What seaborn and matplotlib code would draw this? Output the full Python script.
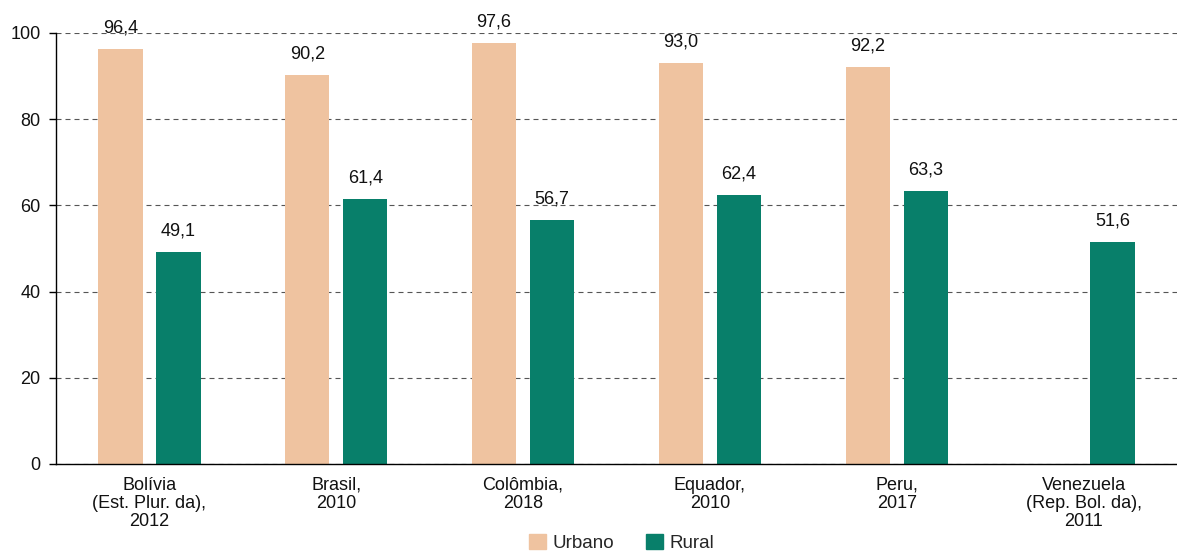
import numpy as np
import pandas as pd
import matplotlib
matplotlib.use("Agg")
import matplotlib.pyplot as plt
from matplotlib.patches import Patch
import seaborn as sns

# data
paises = ["Bolívia\n(Est. Plur. da),\n2012", "Brasil,\n2010", "Colômbia,\n2018",
          "Equador,\n2010", "Peru,\n2017", "Venezuela\n(Rep. Bol. da),\n2011"]
urbano = [96.4, 90.2, 97.6, 93.0, 92.2, np.nan]
rural = [49.1, 61.4, 56.7, 62.4, 63.3, 51.6]
series = ["Urbano", "Rural"]
cores = ["#EFC3A0", "#087F6A"]


def make_chart():
    sns.set_style("white")
    plt.rcParams['font.family'] = ['Liberation Sans', 'DejaVu Sans']
    plt.rcParams['font.size'] = 13

    df = pd.DataFrame({"pais": paises * 2,
                       "serie": [series[0]] * len(paises) + [series[1]] * len(paises),
                       "valor": urbano + rural})

    fig = plt.figure(figsize=(11.77, 5.52), dpi=100)
    ax = fig.add_axes([56 / 1177, 1 - 464 / 552, 1 - 56 / 1177, (464 - 33) / 552])

    sns.barplot(data=df, x="pais", y="valor", hue="serie", order=paises,
                hue_order=series, palette=cores, width=0.62, gap=0.235,
                ax=ax, legend=False, saturation=1, linewidth=0)

    for cont in ax.containers:
        ax.bar_label(cont, labels=[f"{v:.1f}".replace(".", ",") for v in cont.datavalues],
                     padding=9, fontsize=13, color="#111111")

    ax.set_ylim(0, 100)
    # groups are ~189 px wide, the last one is cut by the figure edge
    ax.set_xlim(-0.5, -0.5 + 1121 / 189)
    ax.set_yticks(range(0, 101, 20))
    ax.yaxis.grid(True, linestyle=(0, (4.5, 3.6)), color="#555555", linewidth=0.8)
    ax.set_axisbelow(True)
    for s in ["top", "right"]:
        ax.spines[s].set_visible(False)
    for s in ["left", "bottom"]:
        ax.spines[s].set_color("black")
        ax.spines[s].set_linewidth(1.0)

    ax.set_xticks(range(len(paises)))
    ax.set_xticklabels(paises, linespacing=1.08)
    ax.set_xticks(np.arange(-0.5, len(paises), 1.0), minor=True)
    ax.tick_params(axis="x", which="major", length=0, pad=9, labelcolor="#111111")
    ax.tick_params(axis="x", which="minor", length=4, width=1, color="black", direction="out")
    ax.tick_params(axis="y", length=5, width=1, color="black", pad=6, left=True,
                   labelcolor="#111111")
    ax.set_xlabel("")
    ax.set_ylabel("")

    handles = [Patch(color=c, label=l) for c, l in zip(cores, series)]
    fig.legend(handles=handles, loc="center", bbox_to_anchor=(622 / 1177, 1 - 543 / 552),
               ncol=2, frameon=False, handlelength=0.9, handleheight=0.9,
               handletextpad=0.35, columnspacing=1.7, fontsize=13.5)

    fig.savefig("out.png", dpi=100)
    plt.close(fig)


if __name__ == "__main__":
    make_chart()
